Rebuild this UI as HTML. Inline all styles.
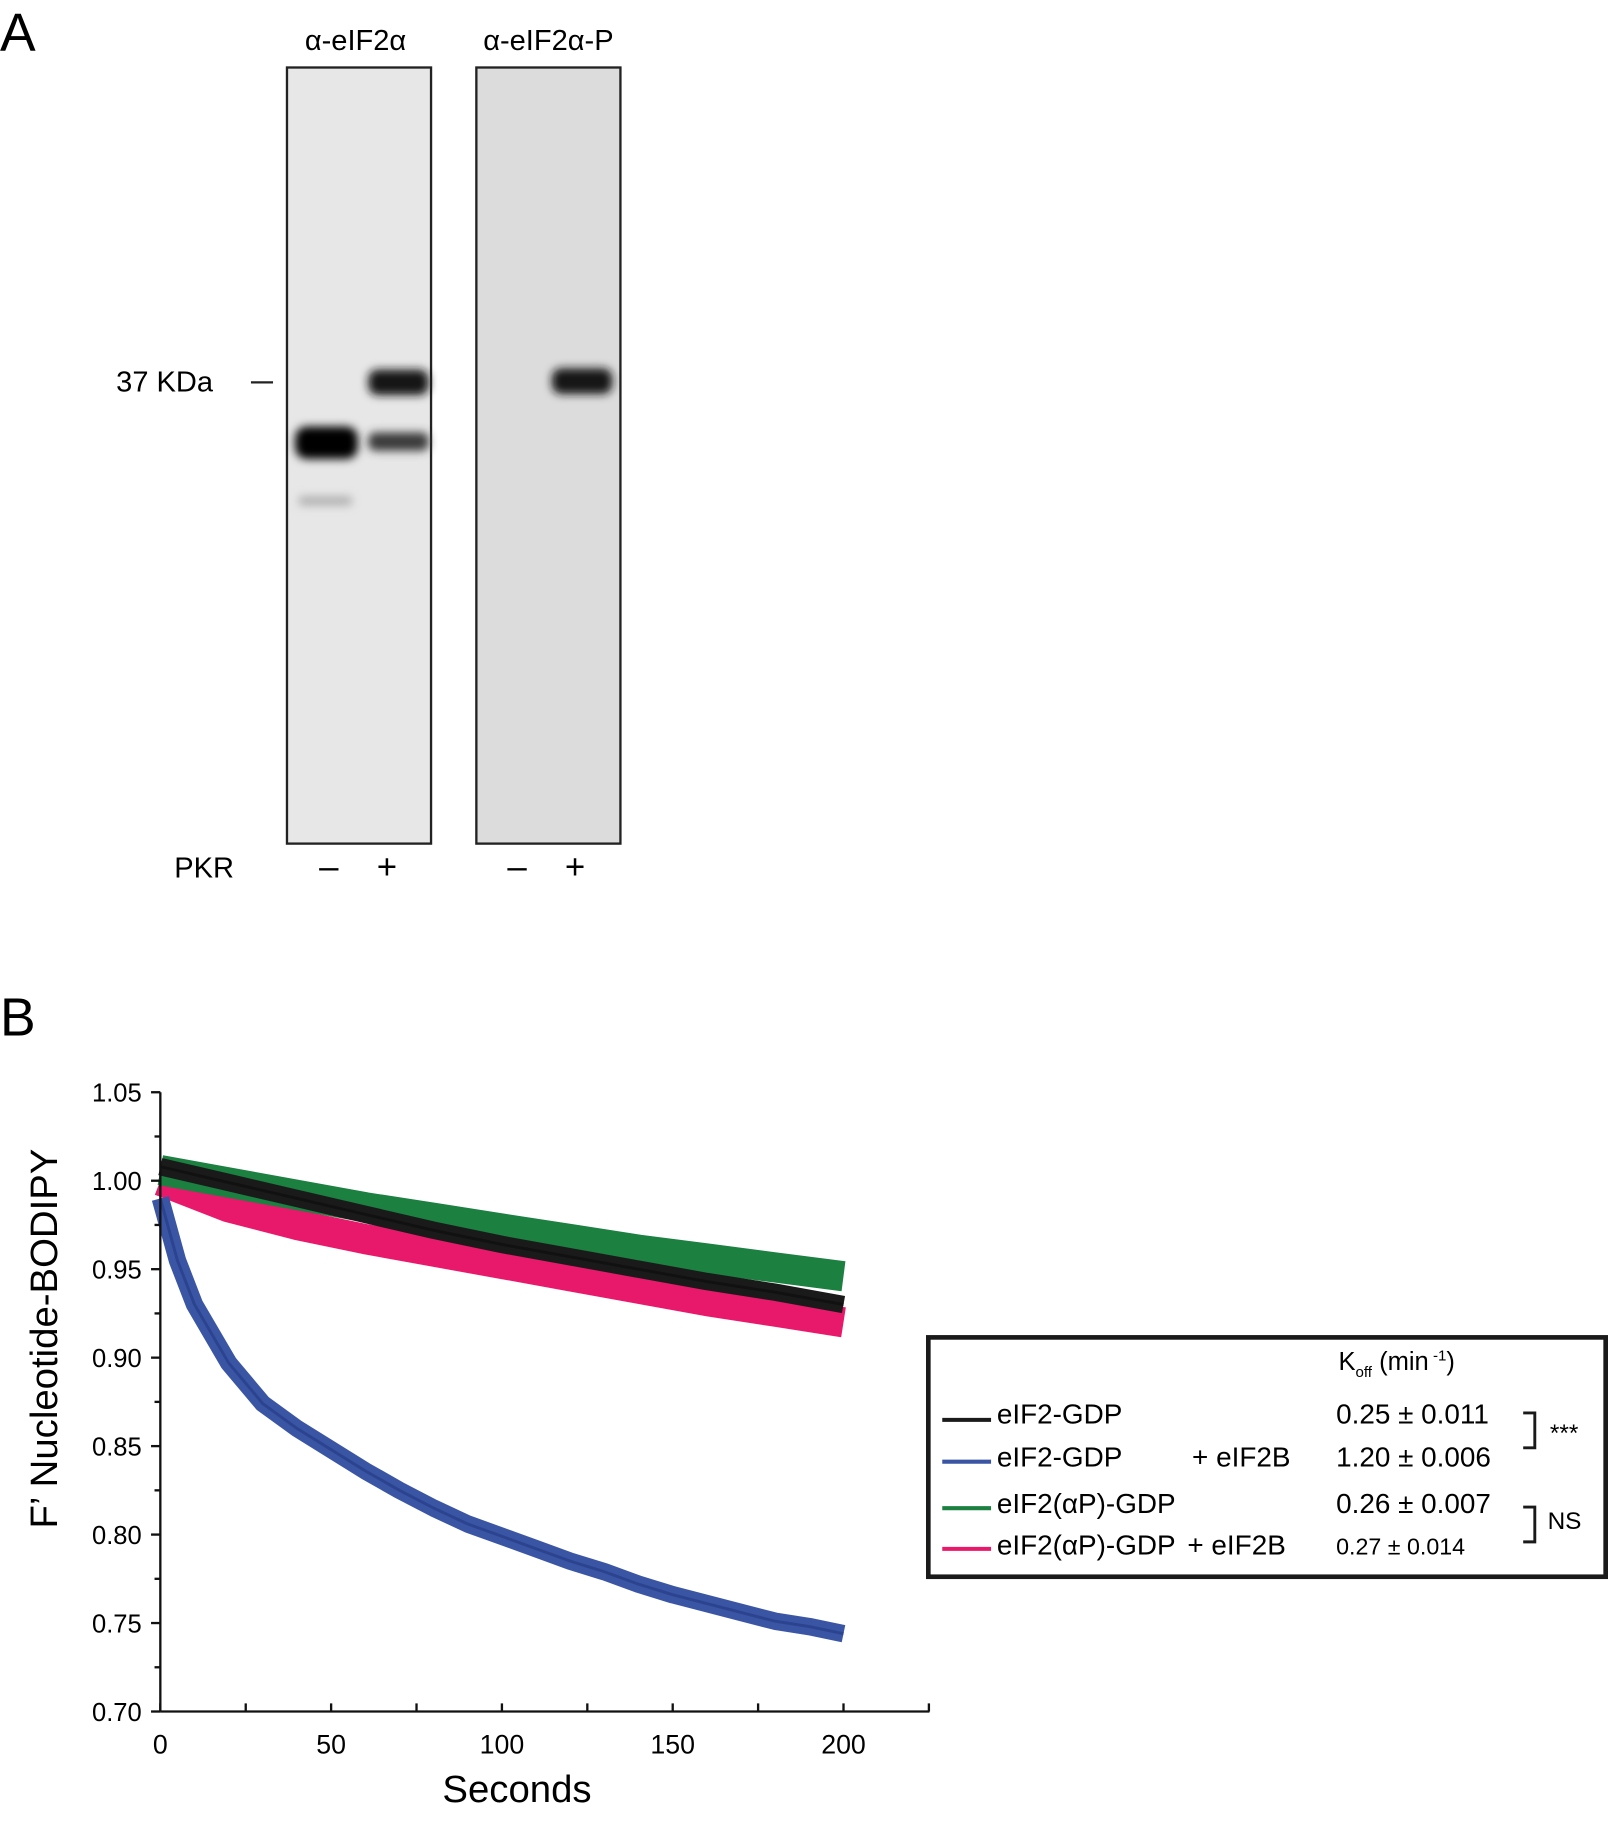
<!DOCTYPE html>
<html><head><meta charset="utf-8"><style>
html,body{margin:0;padding:0;background:#fff;}
svg{display:block;font-family:"Liberation Sans",Arial,sans-serif;}
</style></head><body>
<svg id="fig" width="1608" height="1822" viewBox="0 0 1384 1568" xmlns="http://www.w3.org/2000/svg">
<defs>
<filter id="blur" x="-20%" y="-100%" width="140%" height="300%"><feGaussianBlur stdDeviation="4"/></filter>
</defs>
<g>
<text x="0" y="44" font-size="46">A</text>
<text x="306" y="43" font-size="25" text-anchor="middle">α-eIF2α</text>
<text x="472" y="43" font-size="25" text-anchor="middle">α-eIF2α-P</text>
<rect x="247" y="58" width="124" height="668" fill="#e7e7e7" stroke="#222" stroke-width="2"/>
<rect x="410" y="58" width="124" height="668" fill="#dcdcdc" stroke="#222" stroke-width="2"/>
<g filter="url(#blur)">
<rect x="254" y="367" width="54" height="28" rx="10" fill="#050505"/>
<rect x="317" y="318" width="52" height="22" rx="8" fill="#141414"/>
<rect x="317" y="372" width="52" height="16" rx="6" fill="#3a3a3a"/>
<rect x="257" y="427" width="46" height="8" rx="3" fill="#b0b0b0"/>
<rect x="475" y="317" width="52" height="22" rx="8" fill="#141414"/>
</g>
<text x="100" y="337" font-size="25">37 KDa</text>
<line x1="216" y1="329" x2="235" y2="329" stroke="#222" stroke-width="2"/>
<text x="150" y="755" font-size="25">PKR</text>
<text x="283" y="756" font-size="30" text-anchor="middle">–</text>
<text x="333" y="756" font-size="30" text-anchor="middle">+</text>
<text x="445" y="756" font-size="30" text-anchor="middle">–</text>
<text x="495" y="756" font-size="30" text-anchor="middle">+</text>
</g>
<g>
<text x="0" y="891" font-size="46">B</text>
<g id="plot"></g>
<text transform="translate(49,1152) rotate(-90)" font-size="33" text-anchor="middle">F’ Nucleotide-BODIPY</text>
<text x="445" y="1551" font-size="33" text-anchor="middle">Seconds</text>
</g>
<g>
<rect x="799" y="1151" width="583" height="206" fill="#fff" stroke="#1a1a1a" stroke-width="4"/>
<text x="1152" y="1179" font-size="22">K<tspan font-size="13" dy="6">off</tspan><tspan dy="-6"> (min</tspan><tspan font-size="13" dy="-8"> -1</tspan><tspan dy="8">)</tspan></text>
<g><line x1="811" y1="1222" x2="853" y2="1222" stroke="#1a1a1a" stroke-width="3.5"/><text x="858" y="1225" font-size="24">eIF2-GDP</text><text x="1150" y="1225" font-size="24">0.25 ± 0.011</text></g>
<g><line x1="811" y1="1258" x2="853" y2="1258" stroke="#3a55a4" stroke-width="3.5"/><text x="858" y="1262" font-size="24">eIF2-GDP</text><text x="1026" y="1262" font-size="24">+ eIF2B</text><text x="1150" y="1262" font-size="24">1.20 ± 0.006</text></g>
<g><line x1="811" y1="1298" x2="853" y2="1298" stroke="#1b8040" stroke-width="3.5"/><text x="858" y="1302" font-size="24">eIF2(αP)-GDP</text><text x="1150" y="1302" font-size="24">0.26 ± 0.007</text></g>
<g><line x1="811" y1="1333" x2="853" y2="1333" stroke="#e8186a" stroke-width="3.5"/><text x="858" y="1338" font-size="24">eIF2(αP)-GDP</text><text x="1022" y="1338" font-size="24">+ eIF2B</text><text x="1150" y="1338" font-size="20">0.27 ± 0.014</text></g>
<path d="M1311 1216 H1321 V1246 H1311" fill="none" stroke="#1a1a1a" stroke-width="2.5"/>
<text x="1334" y="1240" font-size="21">***</text>
<path d="M1311 1297 H1321 V1327 H1311" fill="none" stroke="#1a1a1a" stroke-width="2.5"/>
<text x="1332" y="1316" font-size="21">NS</text>
</g>
</svg>
<script>
const times = [0,20,40,60,80,100,120,140,160,180,200];
const blackVals = [1.008,0.999,0.990,0.981,0.972,0.964,0.957,0.950,0.943,0.937,0.930];
const greenVals = [1.006,0.999,0.992,0.985,0.979,0.973,0.967,0.961,0.956,0.951,0.946];
const pinkVals  = [1.000,0.985,0.975,0.967,0.960,0.953,0.946,0.939,0.932,0.926,0.920];
const blueTimes = [0,5,10,20,30,40,50,60,70,80,90,100,110,120,130,140,150,160,170,180,190,200];
const blueVals  = [0.990,0.955,0.930,0.897,0.874,0.860,0.848,0.836,0.825,0.815,0.806,0.799,0.792,0.785,0.779,0.772,0.766,0.761,0.756,0.751,0.748,0.744];
const yTicks = [0.70,0.75,0.80,0.85,0.90,0.95,1.00,1.05];
const xTicks = [0,50,100,150,200];
const NS='http://www.w3.org/2000/svg';
const X0=138,X1=726,Y0=1473,Y1=940;
function xs(t){return X0+(t/200)*(X1-X0);}
function ys(v){return Y0-(v-0.70)/0.35*(Y0-Y1);}
const plot=document.getElementById('plot');
function mk(tag,attrs){const e=document.createElementNS(NS,tag);for(const k in attrs)e.setAttribute(k,attrs[k]);plot.appendChild(e);return e;}
function pts(ts,vs){return ts.map((t,i)=>xs(t).toFixed(1)+','+ys(vs[i]).toFixed(1)).join(' ');}
const series=[['pink',pinkVals,times,'#e8186a',26],['green',greenVals,times,'#1b8040',26],['black',blackVals,times,'#1a1a1a',15],['blue',blueVals,blueTimes,'#3a55a4',15]];
series.forEach(s=>{
  const b=mk('polyline',{points:pts(s[2],s[1]),fill:'none',stroke:s[3],'stroke-width':s[4],'stroke-linejoin':'round'});
  
  
});
const fits=[['black',blackVals,times,'#111'],['blue',blueVals,blueTimes,'#2c448f']];
fits.forEach(s=>{
  const f=mk('polyline',{points:pts(s[2],s[1]),fill:'none',stroke:s[3],'stroke-width':2.5});
  
  
});
const ya=mk('line',{x1:X0,y1:Y0,x2:X0,y2:Y1,stroke:'#111','stroke-width':2});


const xa=mk('line',{x1:X0,y1:Y0,x2:800,y2:Y0,stroke:'#111','stroke-width':2});


yTicks.forEach((v,i)=>{
  mk('line',{x1:X0-8,y1:ys(v),x2:X0,y2:ys(v),stroke:'#111','stroke-width':2});
  if(i<yTicks.length-1){mk('line',{x1:X0-5,y1:ys(v+0.025),x2:X0,y2:ys(v+0.025),stroke:'#111','stroke-width':2});}
  const t=mk('text',{x:X0-16,y:ys(v)+8,'font-size':22,'text-anchor':'end'});
  t.textContent=v.toFixed(2);
  
  
});
for(let t=0;t<=225;t+=25){mk('line',{x1:xs(t),y1:Y0,x2:xs(t),y2:Y0-7,stroke:'#111','stroke-width':2});}
xTicks.forEach(v=>{
  const t=mk('text',{x:xs(v),y:Y0+36,'font-size':23,'text-anchor':'middle'});
  t.textContent=String(v);
  
  
});
</script>
</body></html>
